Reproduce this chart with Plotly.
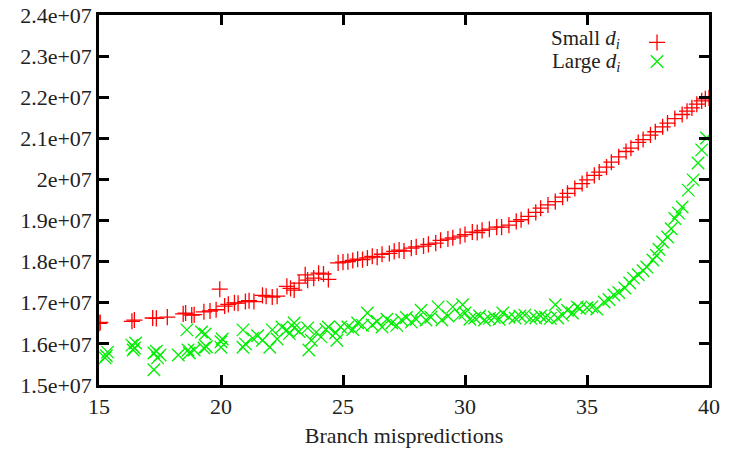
import plotly.graph_objects as go

# Small d_i (red +)
small_x = [15.0, 15.05, 16.35, 16.45, 17.2, 17.35, 17.8, 18.45, 18.55, 18.8, 18.9, 19.3, 19.55, 19.8,
           19.95, 20.15, 20.3, 20.55, 20.7, 21.0, 21.15, 21.35, 21.7, 21.85, 22.1, 22.3, 22.7, 22.85,
           23.0, 23.2, 23.45, 23.55, 23.8, 24.0, 24.2, 24.4, 24.8, 25.0, 25.2, 25.4, 25.6, 25.8, 26.0,
           26.2, 26.4, 26.6, 26.9, 27.1, 27.3, 27.5, 27.8, 28.0, 28.3, 28.5, 28.8, 29.0, 29.3, 29.5,
           29.8, 30.0, 30.3, 30.5, 30.7, 31.0, 31.3, 31.5, 31.8, 32.1, 32.3, 32.6, 32.9, 33.1, 33.4,
           33.7, 34.0, 34.2, 34.5, 34.8, 35.0, 35.3, 35.5, 35.8, 36.0, 36.3, 36.6, 36.8, 37.1, 37.3,
           37.6, 37.8, 38.1, 38.3, 38.6, 38.9, 39.1, 39.3, 39.5, 39.7, 39.85, 40.0]
small_y = [1.650, 1.652, 1.655, 1.658, 1.663, 1.662, 1.665, 1.673, 1.675, 1.670, 1.671, 1.678, 1.680, 1.683,
           1.733, 1.692, 1.696, 1.700, 1.699, 1.703, 1.705, 1.703, 1.718, 1.716, 1.714, 1.716, 1.740, 1.735,
           1.731, 1.748, 1.768, 1.755, 1.760, 1.772, 1.770, 1.757, 1.797, 1.799, 1.800, 1.803, 1.806, 1.805, 1.809,
           1.813, 1.811, 1.818, 1.820, 1.825, 1.828, 1.826, 1.833, 1.836, 1.838, 1.842, 1.845, 1.852, 1.855, 1.858,
           1.862, 1.866, 1.872, 1.871, 1.876, 1.879, 1.884, 1.884, 1.889, 1.898, 1.902, 1.910, 1.920, 1.930, 1.938,
           1.946, 1.957, 1.966, 1.978, 1.990, 1.999, 2.010, 2.018, 2.030, 2.042, 2.055, 2.068, 2.076, 2.090, 2.097,
           2.108, 2.116, 2.128, 2.137, 2.148, 2.158, 2.166, 2.174, 2.183, 2.191, 2.196, 2.198]

# Large d_i (green x)
large_x = [15.3, 15.35, 15.25, 16.35, 16.4, 16.5, 16.45, 17.25, 17.4, 17.25, 17.5, 17.35, 18.25, 18.6,
           18.65, 18.9, 18.7, 19.2, 19.3, 19.35, 19.4, 20.0, 20.0, 20.05, 20.9, 20.9, 21.0, 21.3, 21.5,
           21.7, 22.0, 22.1, 22.3, 22.5, 22.7, 22.8, 23.0, 23.0, 23.2, 23.55, 23.7, 23.6, 23.9, 24.1,
           24.3, 24.4, 24.7, 24.75, 24.9, 25.2, 25.4, 25.6, 25.8, 26.0, 26.2, 26.4, 26.6, 26.8, 27.0,
           27.2, 27.4, 27.6, 27.8, 28.0, 28.2, 28.4, 28.6, 28.9, 29.05, 29.3, 29.5, 29.8, 29.9, 30.0,
           30.2, 30.4, 30.6, 30.8, 31.0, 31.2, 31.4, 31.55, 31.8, 32.05, 32.25, 32.45, 32.7, 32.9, 33.1,
           33.3, 33.5, 33.7, 33.8, 34.0, 34.2, 34.4, 34.6, 34.7, 35.0, 35.2, 35.4, 35.7, 35.9, 36.1,
           36.3, 36.55, 36.75, 36.9, 37.1, 37.3, 37.45, 37.7, 37.85, 37.95, 38.1, 38.3, 38.45, 38.6,
           38.75, 38.9, 39.15, 39.35, 39.55, 39.7, 39.9]
large_y = [1.571, 1.580, 1.566, 1.597, 1.585, 1.602, 1.590, 1.578, 1.566, 1.537, 1.573, 1.582, 1.573, 1.634,
           1.585, 1.585, 1.578, 1.629, 1.590, 1.624, 1.593, 1.605, 1.592, 1.612, 1.634, 1.592, 1.600, 1.614, 1.620,
           1.609, 1.592, 1.634, 1.612, 1.641, 1.634, 1.625, 1.639, 1.651, 1.630, 1.639, 1.609, 1.585, 1.628, 1.617,
           1.635, 1.641, 1.627, 1.609, 1.641, 1.641, 1.635, 1.651, 1.645, 1.675, 1.646, 1.655, 1.641, 1.660, 1.651,
           1.645, 1.658, 1.664, 1.653, 1.660, 1.682, 1.658, 1.665, 1.690, 1.658, 1.668, 1.690, 1.670, 1.695, 1.675,
           1.660, 1.663, 1.668, 1.658, 1.662, 1.665, 1.660, 1.675, 1.665, 1.663, 1.668, 1.670, 1.662, 1.663, 1.668,
           1.665, 1.662, 1.695, 1.663, 1.670, 1.682, 1.675, 1.690, 1.686, 1.688, 1.690, 1.685, 1.702, 1.708, 1.719,
           1.725, 1.736, 1.748, 1.760, 1.768, 1.778, 1.787, 1.804, 1.815, 1.830, 1.848, 1.860, 1.880, 1.905,
           1.918, 1.933, 1.974, 1.999, 2.040, 2.072, 2.101]

y_ticks = [1.5e7, 1.6e7, 1.7e7, 1.8e7, 1.9e7, 2.0e7, 2.1e7, 2.2e7, 2.3e7, 2.4e7]
y_tick_text = ["1.5e+07", "1.6e+07", "1.7e+07", "1.8e+07", "1.9e+07", "2e+07",
               "2.1e+07", "2.2e+07", "2.3e+07", "2.4e+07"]
x_ticks = [15, 20, 25, 30, 35, 40]

FONT = "Liberation Serif"
TXT = "#222222"

fig = go.Figure()
fig.add_trace(go.Scatter(
    x=small_x, y=[v * 1e7 for v in small_y], mode="markers", name=" ",
    marker=dict(symbol="cross-thin", size=11.5, line=dict(color="#ff0000", width=1.3), color="#ff0000"),
))
fig.add_trace(go.Scatter(
    x=large_x, y=[v * 1e7 for v in large_y], mode="markers", name="  ",
    marker=dict(symbol="x-thin", size=12.5, line=dict(color="#00ee00", width=1.3), color="#00ee00"),
))

axis_common = dict(
    showline=True, linecolor="black", linewidth=2.5, mirror="ticks",
    ticks="inside", ticklen=10, tickwidth=2.5, tickcolor="black",
    showgrid=False, zeroline=False, automargin=False,
    tickfont=dict(family=FONT, size=22, color=TXT),
)

fig.update_xaxes(range=[15, 40], tickvals=x_ticks, **axis_common,
                 title=dict(text="Branch mispredictions", font=dict(family=FONT, size=22, color=TXT),
                            standoff=10))
fig.update_yaxes(range=[1.5e7, 2.4e7], tickvals=y_ticks, ticktext=y_tick_text, **axis_common)

fig.update_layout(
    width=741, height=451,
    margin=dict(l=99, r=32, t=15, b=66),
    plot_bgcolor="white", paper_bgcolor="white",
    showlegend=True,
    legend=dict(x=0.882, y=0.965, xanchor="left", yanchor="top", bgcolor="rgba(0,0,0,0)",
                font=dict(family=FONT, size=11), tracegroupgap=0, itemwidth=30),
    annotations=[
        dict(text="Small <i>d<sub>i</sub></i>", xref="paper", yref="paper", x=0.858, y=0.934,
             xanchor="right", yanchor="middle", showarrow=False,
             font=dict(family=FONT, size=21, color=TXT)),
        dict(text="Large <i>d<sub>i</sub></i>", xref="paper", yref="paper", x=0.858, y=0.874,
             xanchor="right", yanchor="middle", showarrow=False,
             font=dict(family=FONT, size=21, color=TXT)),
    ],
)

fig.write_html("out.html")
